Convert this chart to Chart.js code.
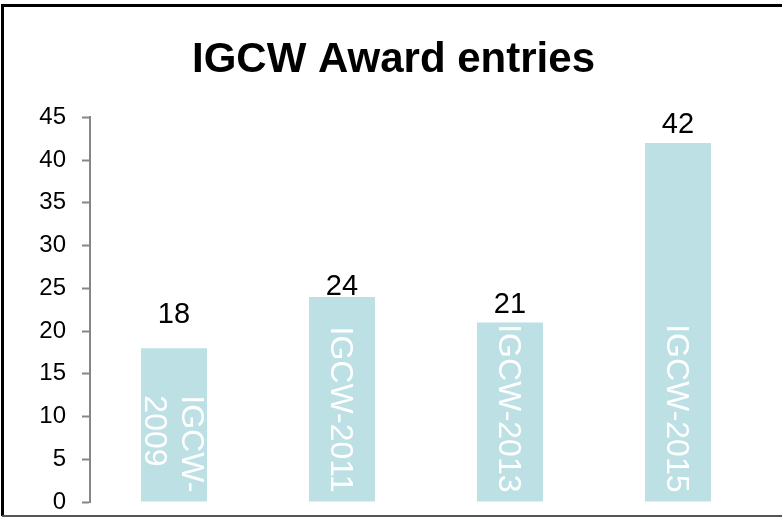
<!DOCTYPE html>
<html lang="en">
<head>
    <meta charset="UTF-8">
    <title>IGCW Award entries</title>
    <script src="https://cdn.jsdelivr.net/npm/chart.js"></script>
    <style>
        html, body {
            margin: 0;
            padding: 0;
            background: #ffffff;
        }
        .chart-box {
            width: 782px;
            height: 517px;
        }
    </style>
</head>
<body>
    <div class="chart-box">
        <canvas id="entriesChart" width="782" height="517"></canvas>
    </div>

    <script>
        // data
        const categories = [["IGCW-", "2009"], "IGCW-2011", "IGCW-2013", "IGCW-2015"];
        const entries = [18, 24, 21, 42];
        const yTicks = [0, 5, 10, 15, 20, 25, 30, 35, 40, 45];

        const FONT = "Arial, 'Liberation Sans', sans-serif";

        // outer frame like the original slide object
        const framePlugin = {
            id: "frame",
            afterDraw(chart) {
                const ctx = chart.ctx;
                ctx.save();
                ctx.strokeStyle = "#000000";
                ctx.lineWidth = 3;
                ctx.beginPath();
                ctx.moveTo(2.5, 516);
                ctx.lineTo(2.5, 5.5);
                ctx.lineTo(782, 5.5);
                ctx.stroke();
                ctx.strokeStyle = "#555555";
                ctx.lineWidth = 2;
                ctx.beginPath();
                ctx.moveTo(2, 516);
                ctx.lineTo(782, 516);
                ctx.stroke();
                ctx.restore();
            }
        };

        // value on top, rotated category name inside each bar
        const barTextPlugin = {
            id: "barText",
            afterDatasetsDraw(chart, args, opts) {
                const ctx = chart.ctx;
                const meta = chart.getDatasetMeta(0);
                ctx.save();
                meta.data.forEach((bar, i) => {
                    // value label
                    ctx.font = "29px " + FONT;
                    ctx.fillStyle = "#000000";
                    ctx.textAlign = "center";
                    ctx.textBaseline = "alphabetic";
                    ctx.fillText(String(entries[i]), bar.x, bar.y - opts.gaps[i]);

                    // category label, rotated clockwise
                    let lines = categories[i];
                    if (!Array.isArray(lines)) lines = [lines];
                    ctx.font = "32px " + FONT;
                    ctx.fillStyle = "#ffffff";
                    ctx.textAlign = "left";
                    ctx.textBaseline = "middle";
                    const maxW = Math.max(...lines.map(l => ctx.measureText(l).width));
                    const lh = 37;
                    ctx.save();
                    ctx.translate(bar.x, bar.base - 9 - maxW);
                    ctx.rotate(Math.PI / 2);
                    lines.forEach((line, j) => {
                        const off = (j - (lines.length - 1) / 2) * lh;
                        ctx.fillText(line, 0, off + 2);
                    });
                    ctx.restore();
                });
                ctx.restore();
            }
        };

        new Chart(document.getElementById("entriesChart"), {
            type: "bar",
            data: {
                labels: categories,
                datasets: [{
                    label: "Entries",
                    data: entries,
                    backgroundColor: "#bde0e4",
                    borderWidth: 0,
                    categoryPercentage: 1,
                    barPercentage: 0.393
                }]
            },
            options: {
                responsive: false,
                animation: false,
                layout: {
                    padding: { left: 25, right: 20, top: 0, bottom: 15 }
                },
                plugins: {
                    legend: { display: false },
                    tooltip: { enabled: false },
                    title: {
                        display: true,
                        text: "IGCW Award entries",
                        color: "#000000",
                        font: { family: FONT, size: 42, weight: "bold", lineHeight: 1.2 },
                        padding: { top: 35, bottom: 32 }
                    },
                    barText: { gaps: [25, 2, 10, 10] }
                },
                scales: {
                    x: {
                        display: false
                    },
                    y: {
                        min: 0,
                        max: 45,
                        afterFit(scale) {
                            scale.width = 65;
                            // labels may overhang; the frame has room for them
                            scale.paddingTop = 0;
                            scale.paddingBottom = 0;
                        },
                        afterBuildTicks(scale) {
                            scale.ticks = yTicks.map(v => ({ value: v }));
                        },
                        ticks: {
                            color: "#000000",
                            padding: 16,
                            font: { family: FONT, size: 24 }
                        },
                        grid: {
                            drawOnChartArea: false,
                            drawTicks: true,
                            tickLength: 8,
                            tickWidth: 2,
                            tickColor: "#868686"
                        },
                        border: {
                            color: "#868686",
                            width: 2
                        }
                    }
                }
            },
            plugins: [framePlugin, barTextPlugin]
        });
    </script>
</body>
</html>
